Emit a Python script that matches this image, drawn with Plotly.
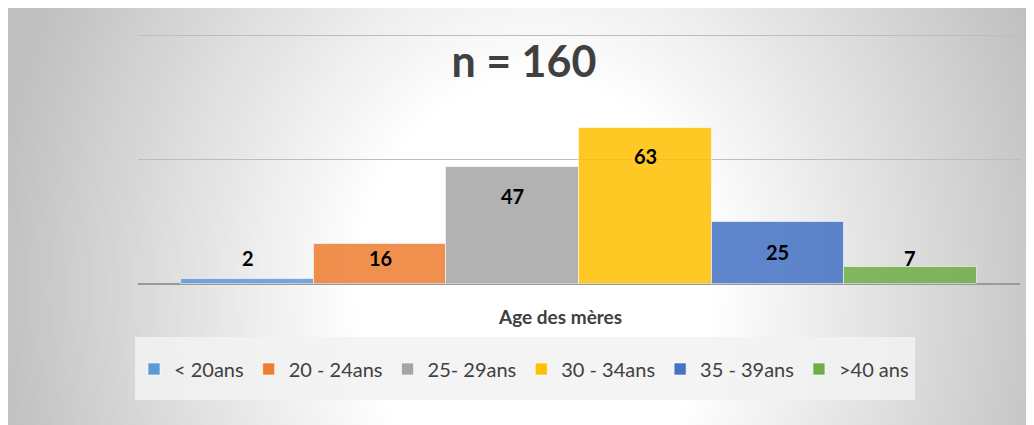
import base64, struct, zlib
import numpy as np
import plotly.graph_objects as go

# ---- data ----
categories = ["< 20ans", "20 - 24ans", "25- 29ans", "30 - 34ans", "35 - 39ans", ">40 ans"]
counts = [2, 16, 47, 63, 25, 7]
colors = ["#5b9bd5", "#ed7d31", "#a5a5a5", "#ffc000", "#4472c4", "#70ad47"]
label_shift = [21, -14, -29, -28, -30, 9]  # pixel offset of value labels from bar top
title_text = "n = 160"
xaxis_title = "Age des mères"

W, H = 1034, 425
L, R, T, B = 130, 22, 23, 149
PW, PH = W - L - R, H - T - B
FONT = "Lato, Open Sans, sans-serif"

def px2x(px):
    return (px - L) / PW

def px2y(py):
    return (H - B - py) / PH

# ---- radial gradient background as PNG ----
def make_png(arr):
    h, w = arr.shape
    raw = b"".join(b"\x00" + arr[i].tobytes() for i in range(h))
    def chunk(tag, data):
        c = struct.pack(">I", len(data)) + tag + data
        return c + struct.pack(">I", zlib.crc32(tag + data) & 0xffffffff)
    png = b"\x89PNG\r\n\x1a\n"
    png += chunk(b"IHDR", struct.pack(">IIBBBBB", w, h, 8, 0, 0, 0, 0))
    png += chunk(b"IDAT", zlib.compress(raw, 9))
    png += chunk(b"IEND", b"")
    return "data:image/png;base64," + base64.b64encode(png).decode()

gw, gh = W // 4, H // 4
gx = np.linspace(0, W, gw)
gy = np.linspace(0, H, gh)
XX, YY = np.meshgrid(gx, gy)
d = np.sqrt(((XX - 527) / 520) ** 2 + ((YY - 282) / 620) ** 2)
t = np.clip((d - 0.35) / 0.65, 0, 1.1)
grey = (255 - 58 * t).astype(np.uint8)
bg_uri = make_png(grey)

fig = go.Figure()
for name, v, c in zip(categories, counts, colors):
    fig.add_trace(go.Bar(
        x=[name], y=[v], name=name, width=1,
        marker=dict(color=c, opacity=0.85, line=dict(color="rgba(255,255,255,0.6)", width=1)),
        hoverinfo="x+y",
    ))

annotations = []
for name, v, s in zip(categories, counts, label_shift):
    annotations.append(dict(x=name, y=v, xref="x", yref="y", text=f"<b>{v}</b>",
                            showarrow=False, yshift=s, yanchor="middle",
                            font=dict(family=FONT, size=20, color="#000000")))
annotations.append(dict(x=px2x(552), y=px2y(308), xref="paper", yref="paper",
                        text=f"<b>{xaxis_title}</b>", showarrow=False,
                        xanchor="center", yanchor="middle",
                        font=dict(family=FONT, size=19, color="#404040")))

fig.update_layout(
    width=W, height=H,
    margin=dict(l=L, r=R, t=T, b=B),
    paper_bgcolor="white",
    plot_bgcolor="rgba(0,0,0,0)",
    barmode="overlay",
    bargap=0,
    showlegend=True,
    title=dict(text=f"<b>{title_text}</b>", x=516 / W, xanchor="center",
               y=1 - 54 / H, yanchor="middle", yref="container",
               font=dict(family=FONT, size=43, color="#404040")),
    xaxis=dict(type="category", categoryorder="array", categoryarray=categories,
               range=[-0.5 - 43 / 131.8, len(categories) - 0.5 + 43 / 131.8],
               showticklabels=False, showgrid=False, zeroline=False, ticks="",
               showline=False, fixedrange=True),
    yaxis=dict(range=[0, 102], tickvals=[0, 50, 100], showticklabels=False, ticks="",
               showgrid=True, gridcolor="#bdbdbd", gridwidth=1,
               zeroline=True, zerolinecolor="#9a9a9a", zerolinewidth=1.5,
               showline=False, fixedrange=True),
    legend=dict(orientation="h", x=px2x(516), xanchor="center", y=px2y(361), yanchor="middle",
                bgcolor="rgba(0,0,0,0)", borderwidth=0, itemclick=False,
                font=dict(family=FONT, size=20, color="#404040"),
                traceorder="normal"),
    annotations=annotations,
    images=[dict(source=bg_uri, xref="paper", yref="paper",
                 x=px2x(0), y=px2y(0), sizex=W / PW, sizey=H / PH,
                 xanchor="left", yanchor="top", sizing="stretch", layer="below")],
    shapes=[dict(type="rect", xref="paper", yref="paper",
                 x0=px2x(127), x1=px2x(907), y0=px2y(392), y1=px2y(329),
                 fillcolor="rgba(242,242,242,0.85)", line=dict(width=0), layer="below")],
)

fig.write_html("out.html")
